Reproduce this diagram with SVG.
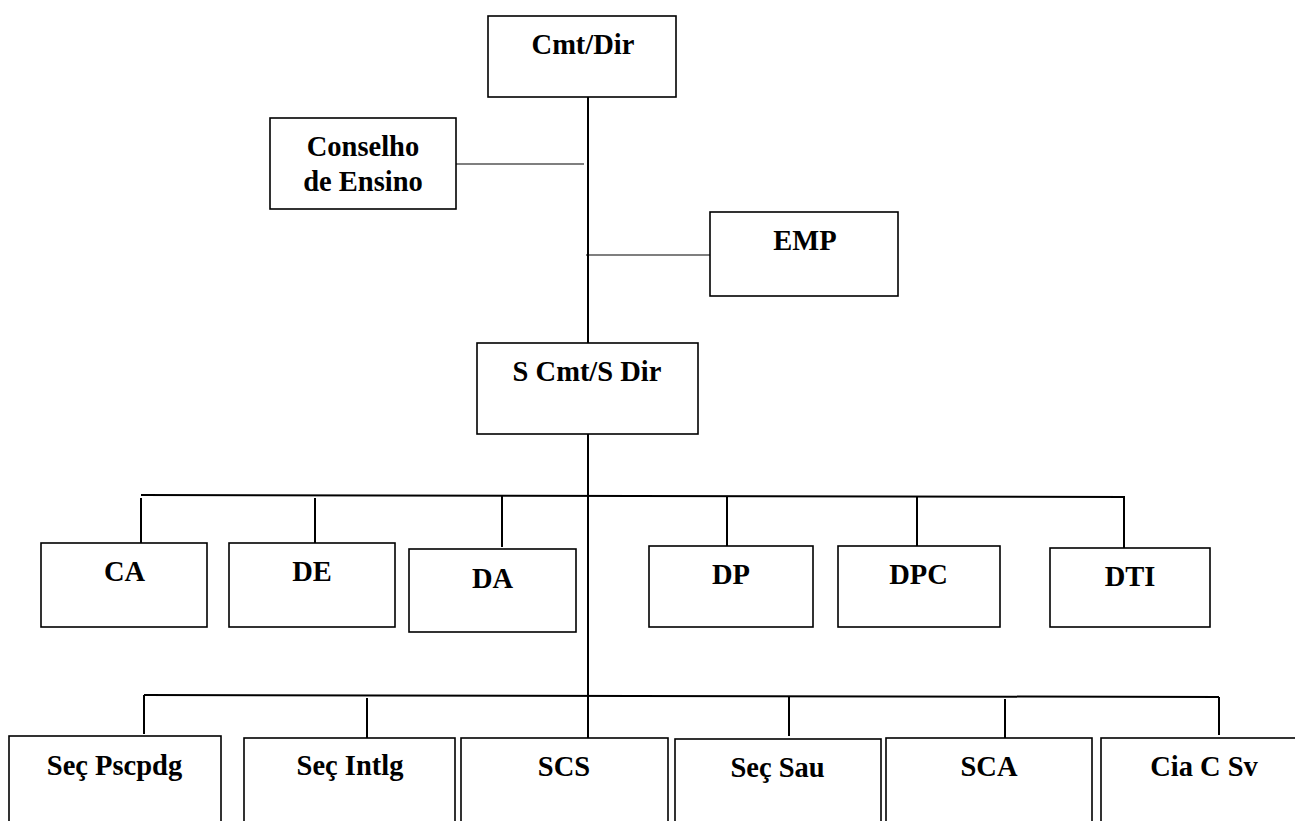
<svg xmlns="http://www.w3.org/2000/svg" width="1295" height="821" viewBox="0 0 1295 821">
<style>
.box{fill:#fff;stroke:#000;stroke-width:1.6}
.t{font-family:'Liberation Serif','DejaVu Serif',serif;font-weight:700;font-size:28.5px;text-anchor:middle;fill:#000}
.ln{stroke:#000;stroke-width:2;fill:none}
.thin{stroke:#000;stroke-width:1.2;fill:none}
</style>
<rect width="1295" height="821" fill="#fff"/>
<g id="connectors">
<line class="ln" x1="588" y1="88" x2="588" y2="343"/>
<line class="ln" x1="588" y1="434" x2="588" y2="738"/>
<line class="thin" x1="456" y1="164" x2="584" y2="164"/>
<line class="thin" x1="586" y1="255" x2="710" y2="255"/>
<line class="ln" x1="141" y1="495" x2="1125" y2="497"/>
<line class="ln" x1="141" y1="498" x2="141" y2="546"/>
<line class="ln" x1="315" y1="498" x2="315" y2="543"/>
<line class="ln" x1="502" y1="496" x2="502" y2="547"/>
<line class="ln" x1="727" y1="496" x2="727" y2="546"/>
<line class="ln" x1="917" y1="496" x2="917" y2="546"/>
<line class="ln" x1="1124" y1="496" x2="1124" y2="548"/>
<line class="ln" x1="144" y1="695" x2="1219" y2="697"/>
<line class="ln" x1="144" y1="695" x2="144" y2="734"/>
<line class="ln" x1="367" y1="698" x2="367" y2="738"/>
<line class="ln" x1="789" y1="697" x2="789" y2="736"/>
<line class="ln" x1="1005" y1="699" x2="1005" y2="738"/>
<line class="ln" x1="1219" y1="697" x2="1219" y2="735"/>
</g>
<g id="cmt-dir"><rect class="box" x="488" y="16" width="188" height="81"/><text class="t" font-family="Liberation Serif, serif" x="583" y="54">Cmt/Dir</text></g>
<g id="conselho"><rect class="box" x="270" y="118" width="186" height="91"/><text class="t" font-family="Liberation Serif, serif" x="363" y="156">Conselho</text><text class="t" font-family="Liberation Serif, serif" x="363" y="191">de Ensino</text></g>
<g id="emp"><rect class="box" x="710" y="212" width="188" height="84"/><text class="t" font-family="Liberation Serif, serif" x="805" y="250">EMP</text></g>
<g id="scmt"><rect class="box" x="477" y="343" width="221" height="91"/><text class="t" font-family="Liberation Serif, serif" x="587" y="381">S Cmt/S Dir</text></g>
<g id="ca"><rect class="box" x="41" y="543" width="166" height="84"/><text class="t" font-family="Liberation Serif, serif" x="124.5" y="581">CA</text></g>
<g id="de"><rect class="box" x="229" y="543" width="166" height="84"/><text class="t" font-family="Liberation Serif, serif" x="312" y="581">DE</text></g>
<g id="da"><rect class="box" x="409" y="549" width="167" height="83"/><text class="t" font-family="Liberation Serif, serif" x="492.5" y="588">DA</text></g>
<g id="dp"><rect class="box" x="649" y="546" width="164" height="81"/><text class="t" font-family="Liberation Serif, serif" x="731" y="584">DP</text></g>
<g id="dpc"><rect class="box" x="838" y="546" width="162" height="81"/><text class="t" font-family="Liberation Serif, serif" x="918.5" y="584">DPC</text></g>
<g id="dti"><rect class="box" x="1050" y="548" width="160" height="79"/><text class="t" font-family="Liberation Serif, serif" x="1130" y="586">DTI</text></g>
<g id="sec-pscpdg"><rect class="box" x="9" y="736" width="212" height="100"/><text class="t" font-family="Liberation Serif, serif" x="114.5" y="775">Seç Pscpdg</text></g>
<g id="sec-intlg"><rect class="box" x="244" y="738" width="211" height="100"/><text class="t" font-family="Liberation Serif, serif" x="350" y="775">Seç Intlg</text></g>
<g id="scs"><rect class="box" x="461" y="738" width="207" height="100"/><text class="t" font-family="Liberation Serif, serif" x="564" y="776">SCS</text></g>
<g id="sec-sau"><rect class="box" x="675" y="739" width="206" height="100"/><text class="t" font-family="Liberation Serif, serif" x="777.5" y="777">Seç Sau</text></g>
<g id="sca"><rect class="box" x="886" y="738" width="206" height="100"/><text class="t" font-family="Liberation Serif, serif" x="989" y="776">SCA</text></g>
<g id="cia-c-sv"><rect class="box" x="1101" y="738" width="210" height="100"/><text class="t" font-family="Liberation Serif, serif" x="1204" y="776">Cia C Sv</text></g>
</svg>
